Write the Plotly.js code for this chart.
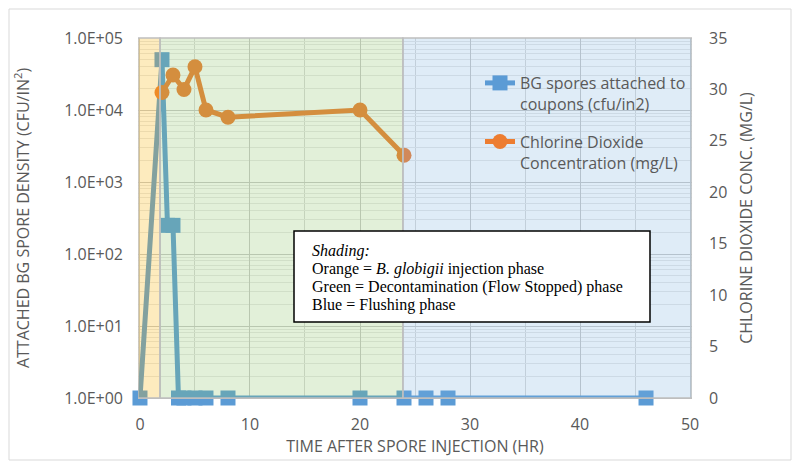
<!DOCTYPE html>
<html>
<head>
<meta charset="utf-8">
<script src="https://cdn.plot.ly/plotly-3.0.1.min.js"></script>
<style>html,body{margin:0;padding:0;background:#fff;}#chart{width:800px;height:470px;}</style>
</head>
<body>
<div id="chart"></div>
<script>
// ---- data ----
const sporeHours = [0, 2, 2.5, 3, 3.5, 4, 5, 6, 8, 20, 24, 26, 28, 46];
const sporeDensity = [1, 50000, 250, 250, 1, 1, 1, 1, 1, 1, 1, 1, 1, 1];
const clo2Hours = [2, 3, 4, 5, 6, 8, 20, 24];
const clo2Conc = [29.7, 31.4, 30.0, 32.2, 28.0, 27.3, 28.0, 23.6];
const xTickVals = [0, 10, 20, 30, 40, 50];
const yTickVals = [1, 10, 100, 1000, 10000, 100000];
const yTickText = ['1.0E+00', '1.0E+01', '1.0E+02', '1.0E+03', '1.0E+04', '1.0E+05'];
const y2TickVals = [0, 5, 10, 15, 20, 25, 30, 35];
const phaseNames = ['injection', 'decontamination', 'flushing'];
const phaseStart = [-0.18, 1.82, 23.9];
const phaseEnd = [1.82, 23.9, 50.18];
const phaseColors = ['rgba(247,179,3,0.26)', 'rgba(139,195,103,0.25)', 'rgba(123,175,223,0.24)'];
const boxLines = [
  '<i>Shading:</i>',
  'Orange = <i>B. globigii</i> injection phase',
  'Green = Decontamination (Flow Stopped) phase',
  'Blue = Flushing phase'
];

const gray = '#595959';
const baseFont = {family: 'Open Sans, sans-serif', color: gray, size: 16};
const titleFont = {family: 'Open Sans, sans-serif', size: 16, color: gray};

const traces = [
  {
    x: sporeHours, y: sporeDensity, type: 'scatter', mode: 'lines+markers',
    name: 'BG spores attached to<br>coupons (cfu/in2)', legendgroup: 'spores',
    line: {color: '#5B9BD5', width: 5},
    marker: {symbol: 'square', size: 15, color: '#5B9BD5'},
    cliponaxis: false
  },
  {
    x: clo2Hours, y: clo2Conc, type: 'scatter', mode: 'lines+markers', yaxis: 'y2',
    name: 'Chlorine Dioxide<br>Concentration (mg/L)', legendgroup: 'clo2',
    line: {color: '#ED7D31', width: 5},
    marker: {symbol: 'circle', size: 15, color: '#ED7D31'},
    cliponaxis: false
  }
];

const W = 554, H = 360, L = 138, T = 38;
const px = v => (v - L) / W;
const py = v => (T + H - v) / H;

const shapes = [
  {type: 'rect', xref: 'paper', yref: 'paper', x0: px(9), x1: px(791), y0: py(460), y1: py(9),
   line: {color: '#D9D9D9', width: 1}, fillcolor: 'rgba(0,0,0,0)', layer: 'below'}
];
phaseNames.forEach((n, i) => {
  shapes.push({type: 'rect', xref: 'x', yref: 'paper', x0: phaseStart[i], x1: phaseEnd[i], y0: 0, y1: 1,
    fillcolor: phaseColors[i], line: {color: '#BFBFBF', width: 1.5}, layer: 'above'});
});
shapes.push({type: 'rect', xref: 'paper', yref: 'paper', x0: px(294), x1: px(650), y0: py(322), y1: py(231),
  fillcolor: '#FFFFFF', line: {color: '#000000', width: 1.5}, layer: 'above'});

const lineY = [251, 269, 287, 305];
const annotations = boxLines.map((t, i) => ({
  xref: 'paper', yref: 'paper', x: px(310), y: py(lineY[i]), xanchor: 'left', yanchor: 'middle',
  text: t, showarrow: false, align: 'left',
  font: {family: 'Liberation Serif, Times New Roman, serif', size: 16, color: '#000'}
}));

const layout = {
  width: 800, height: 470,
  margin: {l: L, r: 800 - L - W, t: T, b: 470 - T - H, pad: 0},
  paper_bgcolor: '#FFFFFF', plot_bgcolor: '#FFFFFF',
  font: baseFont,
  showlegend: true,
  legend: {x: px(480), y: py(66), xanchor: 'left', yanchor: 'top', bgcolor: 'rgba(0,0,0,0)',
    font: {family: 'Open Sans, sans-serif', size: 16, color: gray}, valign: 'top', tracegroupgap: 14},
  xaxis: {
    range: [-0.18, 50.18], tickmode: 'array', tickvals: xTickVals, ticks: '', showline: true,
    linecolor: '#BFBFBF', linewidth: 1, showgrid: true, gridcolor: '#C8C8C8', zeroline: false,
    minor: {dtick: 5, showgrid: true, gridcolor: '#D9D9D9'},
    tickfont: baseFont, ticklabelstandoff: 12,
    title: {text: 'TIME AFTER SPORE INJECTION (HR)', font: titleFont, standoff: 0}
  },
  yaxis: {
    type: 'log', range: [0, 5], tickmode: 'array', tickvals: yTickVals, ticktext: yTickText,
    ticks: '', showline: false, showgrid: true, gridcolor: '#C8C8C8', zeroline: false,
    minor: {dtick: 'D1', showgrid: true, gridcolor: '#E8E8E8'},
    tickfont: baseFont, ticklabelstandoff: 14,
    title: {text: 'ATTACHED BG SPORE DENSITY (CFU/IN<sup>2</sup>)', font: titleFont, standoff: 30}
  },
  yaxis2: {
    overlaying: 'y', side: 'right', range: [0, 35], tickmode: 'array', tickvals: y2TickVals,
    showgrid: false, zeroline: false, showline: false, ticks: '', tickfont: baseFont, ticklabelstandoff: 16,
    title: {text: 'CHLORINE DIOXIDE CONC. (MG/L)', font: titleFont, standoff: 14}
  },
  shapes: shapes,
  annotations: annotations
};

Plotly.newPlot('chart', traces, layout, {displayModeBar: false, staticPlot: true});
</script>
</body>
</html>
